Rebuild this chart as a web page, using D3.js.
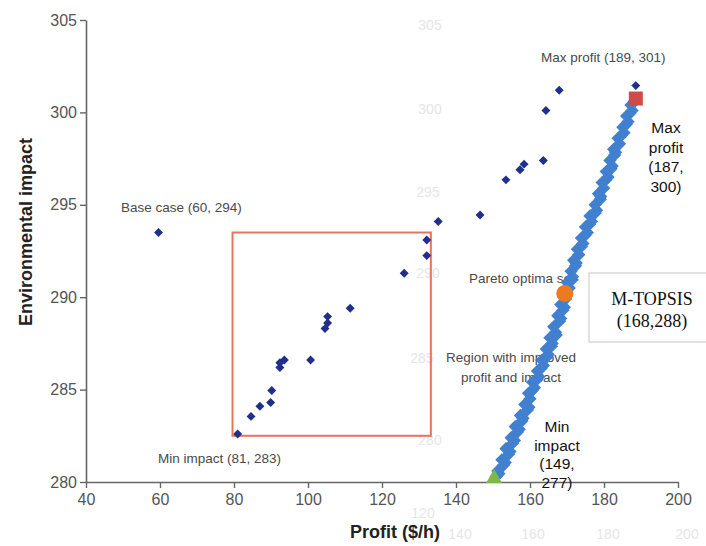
<!DOCTYPE html>
<html><head><meta charset="utf-8">
<script src="https://cdn.jsdelivr.net/npm/d3@7"></script>
<style>
body{margin:0;background:#fff;}
svg{display:block;font-family:"Liberation Sans",Arial,Helvetica,sans-serif;}
</style></head>
<body><svg id="c" width="706" height="546"></svg>
<script>
// ---- data ----
const xTicks = [40, 60, 80, 100, 120, 140, 160, 180, 200];
const yTicks = [280, 285, 290, 295, 300, 305];

// explored (non-Pareto) solutions
const explored = [
  [59.6, 293.5], [81.0, 282.6], [84.6, 283.55], [87.0, 284.1], [89.9, 284.3], [90.2, 284.95],
  [92.4, 286.2], [92.4, 286.45], [93.6, 286.6], [100.7, 286.6], [104.6, 288.3], [105.3, 288.6],
  [105.3, 288.95], [111.4, 289.4], [126.0, 291.3], [132.1, 292.25], [132.1, 293.1], [135.2, 294.1],
  [146.5, 294.45], [153.5, 296.35], [157.3, 296.9], [158.4, 297.2], [163.6, 297.4], [164.3, 300.1],
  [167.9, 301.2], [188.6, 301.45]
];

// Pareto optimal set (dense band)
const pareto = [
  [150.9, 280.3], [151.3, 280.6], [152.8, 280.9], [152.4, 281.2], [154.2, 281.5], [153.5, 281.8],
  [155.3, 282.1], [154.9, 282.4], [156.6, 282.7], [156.0, 283.0], [157.8, 283.3], [157.4, 283.6],
  [159.3, 283.9], [158.6, 284.2], [160.0, 284.5], [159.6, 284.8], [161.2, 285.1], [160.7, 285.4],
  [162.4, 285.7], [162.0, 286.0], [163.6, 286.3], [163.2, 286.6], [164.9, 286.9], [164.4, 287.2],
  [166.0, 287.5], [165.4, 287.8], [166.9, 288.1], [166.4, 288.4], [168.0, 288.7], [167.5, 289.0],
  [168.9, 289.3], [168.3, 289.6], [169.6, 289.9], [169.2, 290.2], [170.6, 290.5], [170.1, 290.8],
  [171.5, 291.1], [171.1, 291.4], [172.3, 291.7], [171.8, 292.0], [173.2, 292.3], [172.8, 292.6],
  [174.3, 292.9], [173.9, 293.2], [175.5, 293.5], [175.0, 293.8], [176.6, 294.1], [176.2, 294.4],
  [178.0, 294.7], [177.6, 295.0], [179.0, 295.3], [178.5, 295.6], [179.9, 295.9], [179.5, 296.2],
  [181.1, 296.5], [180.6, 296.8], [182.2, 297.1], [181.6, 297.4], [182.9, 297.7], [182.6, 298.0],
  [184.2, 298.3], [183.8, 298.6], [185.4, 298.9], [185.1, 299.2], [186.5, 299.5], [186.1, 299.8],
  [187.6, 300.1], [187.3, 300.4], [188.2, 300.6],
  [151.6, 280.45], [153.3, 281.05], [154.6, 281.65], [155.8, 282.25], [157.1, 282.85], [158.1, 283.45],
  [159.7, 284.05], [160.6, 284.95], [161.9, 285.55], [163.0, 286.15], [164.5, 286.75], [165.8, 287.35],
  [167.1, 287.95], [168.3, 288.85], [169.3, 289.45], [170.0, 290.35], [171.4, 290.95], [172.5, 291.85],
  [173.9, 292.75], [174.9, 293.35], [176.1, 293.95], [177.6, 294.55], [179.1, 295.45], [180.5, 296.35],
  [181.9, 296.95], [183.1, 297.85], [184.7, 298.75], [186.0, 299.35], [187.0, 299.95]
];

const maxProfitPt = [188.6, 300.75];
const mtopsisPt = [169.4, 290.2];
const minImpactPt = [150.3, 280.2];
const regionBox = [79.6, 133.2, 282.5, 293.5]; // x0, x1, y0, y1

const ghostY = [["305", 430, 26], ["300", 430, 110], ["295", 428, 193], ["290", 428, 274], ["285", 422, 359], ["280", 430, 441]];
const ghostX = [["140", 460, 535], ["160", 533, 535], ["180", 608, 535], ["200", 687, 535], ["120", 423, 514]];

// ---- chart ----
const svg = d3.select("#c");
const x = d3.scaleLinear().domain([40, 200]).range([86, 678]);
const y = d3.scaleLinear().domain([280, 305]).range([482, 20]);

// faint ghost labels (background artifacts)
svg.append("g").selectAll("text").data(ghostY.concat(ghostX)).join("text")
  .attr("x", d => d[1]).attr("y", d => d[2]).attr("text-anchor", "middle")
  .attr("dominant-baseline", "middle").attr("font-size", 14).attr("fill", "#e6e6e6")
  .text(d => d[0]);

// axes
const gx = svg.append("g").attr("transform", `translate(0,${y(280)})`)
  .call(d3.axisBottom(x).tickValues(xTicks).tickSize(6).tickSizeOuter(0).tickPadding(6));
const gy = svg.append("g").attr("transform", `translate(${x(40)},0)`)
  .call(d3.axisLeft(y).tickValues(yTicks).tickSize(6).tickSizeOuter(0).tickPadding(3));
[gx, gy].forEach(g => {
  g.select(".domain").attr("stroke", "#666").attr("stroke-width", 1.6);
  g.selectAll(".tick line").attr("stroke", "#666").attr("stroke-width", 1.4);
  g.selectAll(".tick text").attr("font-size", 16).attr("fill", "#555")
    .attr("font-family", "'Liberation Sans',Arial,sans-serif");
});

svg.append("text").attr("transform", "translate(32,232) rotate(-90)")
  .attr("text-anchor", "middle").attr("font-size", 18).attr("font-weight", "bold").attr("fill", "#222")
  .text("Environmental impact");
svg.append("text").attr("x", 395).attr("y", 538)
  .attr("text-anchor", "middle").attr("font-size", 18).attr("font-weight", "bold").attr("fill", "#222")
  .text("Profit ($/h)");

// region box
svg.append("rect")
  .attr("x", x(regionBox[0])).attr("y", y(regionBox[3]))
  .attr("width", x(regionBox[1]) - x(regionBox[0])).attr("height", y(regionBox[2]) - y(regionBox[3]))
  .attr("fill", "none").attr("stroke", "#e8735f").attr("stroke-width", 2);

// gray annotations
const gray = "#4a4a4a";
const ann = svg.append("g").attr("font-size", 13.5).attr("fill", gray);
ann.append("text").attr("x", 121).attr("y", 212).text("Base case (60, 294)");
ann.append("text").attr("x", 158).attr("y", 463).text("Min impact (81, 283)");
ann.append("text").attr("x", 541).attr("y", 62).text("Max profit (189, 301)");
ann.append("text").attr("x", 469).attr("y", 283).text("Pareto optima set");
ann.append("text").attr("x", 511).attr("y", 362).attr("text-anchor", "middle").text("Region with improved");
ann.append("text").attr("x", 511).attr("y", 382).attr("text-anchor", "middle").text("profit and impact");

// explored points
const diamondSmall = d3.symbol(d3.symbolSquare, 40)();
svg.append("g").selectAll("path").data(explored).join("path")
  .attr("d", diamondSmall)
  .attr("transform", d => `translate(${x(d[0])},${y(d[1])}) rotate(45)`)
  .attr("fill", "#1f2f8c");

// pareto band
const diamondBig = d3.symbol(d3.symbolSquare, 88)();
svg.append("g").selectAll("path").data(pareto).join("path")
  .attr("d", diamondBig)
  .attr("transform", d => `translate(${x(d[0])},${y(d[1])}) rotate(45)`)
  .attr("fill", "#4180cf");

// special points
svg.append("circle").attr("cx", x(mtopsisPt[0])).attr("cy", y(mtopsisPt[1])).attr("r", 8.5)
  .attr("fill", "#ec7a1f");
svg.append("rect").attr("x", x(maxProfitPt[0]) - 7).attr("y", y(maxProfitPt[1]) - 7)
  .attr("width", 14).attr("height", 14).attr("fill", "#cf4a48");
svg.append("path").attr("d", d3.symbol(d3.symbolTriangle, 110)())
  .attr("transform", `translate(${x(minImpactPt[0])},${y(minImpactPt[1])})`)
  .attr("fill", "#7cb84a");

// M-TOPSIS box
svg.append("rect").attr("x", 589).attr("y", 273).attr("width", 130).attr("height", 69)
  .attr("fill", "#fff").attr("stroke", "#cfcfcf").attr("stroke-width", 1.2);
const mt = svg.append("g").attr("font-family", "'Liberation Serif','Times New Roman',serif")
  .attr("font-size", 18).attr("fill", "#111").attr("text-anchor", "middle");
mt.append("text").attr("x", 652).attr("y", 305).text("M-TOPSIS");
mt.append("text").attr("x", 652).attr("y", 327).text("(168,288)");

// black multi-line labels
const blk = svg.append("g").attr("font-size", 15.5).attr("fill", "#111").attr("text-anchor", "middle");
["Max", "profit", "(187,", "300)"].forEach((t, i) =>
  blk.append("text").attr("x", 666).attr("y", 133 + i * 19.5).text(t));
["Min", "impact", "(149,", "277)"].forEach((t, i) =>
  blk.append("text").attr("x", 557).attr("y", 432 + i * 18.5).text(t));
</script></body></html>
